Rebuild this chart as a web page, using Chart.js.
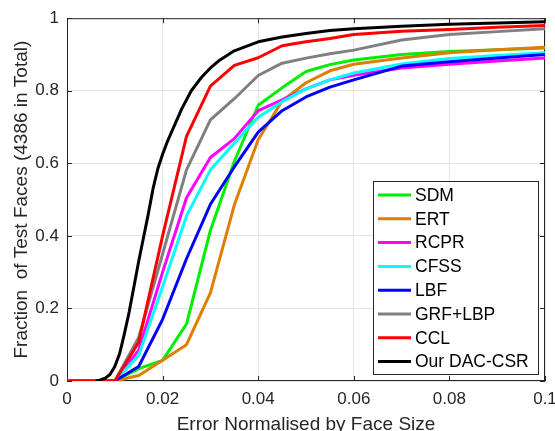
<!DOCTYPE html>
<html>
<head>
<meta charset="utf-8">
<script src="https://cdn.jsdelivr.net/npm/chart.js@4"></script>
<style>
  html, body { margin: 0; padding: 0; background: #fff; overflow: hidden; }
  #wrap { width: 575px; height: 440px; position: relative; }
</style>
</head>
<body>
<div id="wrap"><canvas id="cedChart"></canvas></div>
<script>
// valori
const errSteps = [0, 0.005, 0.01, 0.015, 0.02, 0.025, 0.03, 0.035, 0.04, 0.045, 0.05, 0.055, 0.06, 0.07, 0.08, 0.09, 0.1];
const sdm  = [0, 0, 0, 0.034, 0.057, 0.157, 0.415, 0.605, 0.76, 0.808, 0.853, 0.872, 0.885, 0.9, 0.908, 0.913, 0.918];
const ert  = [0, 0, 0, 0.015, 0.057, 0.1, 0.243, 0.485, 0.665, 0.772, 0.822, 0.855, 0.873, 0.89, 0.905, 0.913, 0.92];
const rcpr = [0, 0, 0, 0.085, 0.3, 0.505, 0.616, 0.668, 0.745, 0.775, 0.805, 0.83, 0.843, 0.863, 0.873, 0.882, 0.89];
const cfss = [0, 0, 0, 0.07, 0.26, 0.455, 0.582, 0.655, 0.727, 0.77, 0.805, 0.83, 0.849, 0.874, 0.889, 0.897, 0.905];
const lbf  = [0, 0, 0, 0.04, 0.17, 0.337, 0.487, 0.59, 0.686, 0.745, 0.783, 0.81, 0.83, 0.868, 0.88, 0.89, 0.9];
const grf  = [0, 0, 0, 0.12, 0.35, 0.582, 0.72, 0.778, 0.842, 0.876, 0.89, 0.902, 0.912, 0.94, 0.955, 0.963, 0.971];
const ccl  = [0, 0, 0, 0.107, 0.4, 0.674, 0.813, 0.87, 0.891, 0.924, 0.935, 0.944, 0.955, 0.964, 0.969, 0.975, 0.98];

// la nostra curva ha più punti (parte da 0.006)
const oursSteps = [0.006, 0.007, 0.008, 0.009, 0.01, 0.011, 0.012, 0.013, 0.014, 0.015, 0.016, 0.017, 0.018, 0.019, 0.02,
                   0.021, 0.022, 0.024, 0.026, 0.028, 0.03, 0.032, 0.035, 0.04, 0.045, 0.05, 0.055, 0.06, 0.07, 0.08, 0.09, 0.1];
const ours = [0, 0.003, 0.008, 0.018, 0.04, 0.075, 0.13, 0.19, 0.26, 0.33, 0.395, 0.46, 0.53, 0.585, 0.625,
              0.66, 0.69, 0.75, 0.8, 0.835, 0.863, 0.885, 0.91, 0.935, 0.948, 0.958, 0.966, 0.971, 0.978, 0.983, 0.987, 0.99];

const methods = ['SDM', 'ERT', 'RCPR', 'CFSS', 'LBF', 'GRF+LBP', 'CCL', 'Our DAC-CSR'];
const series  = [sdm, ert, rcpr, cfss, lbf, grf, ccl, ours];
const colors  = ['#00ee00', '#dd7f00', '#ff00ff', '#00ffff', '#0000ff', '#808080', '#ff0000', '#000000'];

const xTickLabels = ['0', '0.02', '0.04', '0.06', '0.08', '0.1'];
const yTickLabels = ['0', '0.2', '0.4', '0.6', '0.8', '1'];

const textColor = '#262626';

let datasets = methods.map(function(name, i) {
  const xs = (i == methods.length - 1) ? oursSteps : errSteps;
  return {
    label: name,
    data: series[i].map((v, k) => ({ x: xs[k], y: v })),
    borderColor: colors[i],
    backgroundColor: colors[i],
    borderWidth: 3,
    pointRadius: 0,
    tension: 0,
    borderJoinStyle: 'round',
    order: methods.length - i   // l'ultima sopra
  };
});

// cornice + tacche interne + legenda
const BoxPlugin = {
  id: 'boxPlugin',
  beforeDatasetsDraw: (chart) => {
    const { ctx, chartArea: a, scales } = chart;
    ctx.save();
    ctx.strokeStyle = textColor;
    ctx.lineWidth = 1;
    ctx.strokeRect(a.left + 0.5, a.top + 0.5, a.right - a.left - 1, a.bottom - a.top - 1);
    ctx.beginPath();
    scales.x.ticks.forEach(t => {
      const px = Math.round(scales.x.getPixelForValue(t.value)) + 0.5;
      ctx.moveTo(px, a.bottom); ctx.lineTo(px, a.bottom - 5);
      ctx.moveTo(px, a.top); ctx.lineTo(px, a.top + 5);
    });
    scales.y.ticks.forEach(t => {
      const py = Math.round(scales.y.getPixelForValue(t.value)) + 0.5;
      ctx.moveTo(a.left, py); ctx.lineTo(a.left + 5, py);
      ctx.moveTo(a.right, py); ctx.lineTo(a.right - 5, py);
    });
    ctx.stroke();
    ctx.restore();
  },
  afterDraw: (chart) => {
    const { ctx } = chart;
    ctx.save();
    ctx.fillStyle = '#fff';
    ctx.fillRect(373, 181, 166, 194);
    ctx.strokeStyle = textColor;
    ctx.lineWidth = 1;
    ctx.strokeRect(373.5, 181.5, 165, 193);
    ctx.font = '17.5px "Liberation Sans", Arial, sans-serif';
    ctx.textBaseline = 'middle';
    methods.forEach(function(name, i) {
      const y = 195 + i * 23.8;
      ctx.strokeStyle = colors[i];
      ctx.lineWidth = 3;
      ctx.beginPath();
      ctx.moveTo(378, y); ctx.lineTo(411, y);
      ctx.stroke();
      ctx.fillStyle = '#000';
      ctx.fillText(name, 415, y + 1);
    });
    ctx.restore();
  }
};

let ctx = document.getElementById('cedChart').getContext('2d');
let cedChart = new Chart(ctx, {
  type: 'line',
  data: { datasets: datasets },
  options: {
    responsive: true,
    maintainAspectRatio: false,
    animation: false,
    layout: { padding: { top: 13, right: 30, left: 0, bottom: 0 } },
    plugins: { legend: { display: false }, tooltip: { enabled: false } },
    scales: {
      x: {
        type: 'linear',
        min: 0, max: 0.1,
        afterFit: (s) => { s.height = 59; },
        ticks: {
          stepSize: 0.02,
          padding: 8,
          color: textColor,
          font: { family: '"Liberation Sans", Arial, sans-serif', size: 17 },
          maxRotation: 0,
          callback: (v, i) => xTickLabels[i]
        },
        grid: { color: '#e4e4e4', drawTicks: false },
        border: { display: false },
        title: {
          display: true,
          text: 'Error Normalised by Face Size',
          color: textColor,
          font: { family: '"Liberation Sans", Arial, sans-serif', size: 19 },
          padding: { top: 0, bottom: 4 }
        }
      },
      y: {
        min: 0, max: 1,
        afterFit: (s) => { s.width = 67; },
        ticks: {
          stepSize: 0.2,
          padding: 8,
          color: textColor,
          font: { family: '"Liberation Sans", Arial, sans-serif', size: 17 },
          callback: (v, i) => yTickLabels[i]
        },
        grid: { color: '#e4e4e4', drawTicks: false },
        border: { display: false },
        title: {
          display: true,
          text: 'Fraction  of Test Faces (4386 in Total)',
          color: textColor,
          font: { family: '"Liberation Sans", Arial, sans-serif', size: 19 },
          padding: { top: 10, bottom: 0 }
        }
      }
    }
  },
  plugins: [BoxPlugin]
});
</script>
</body>
</html>
